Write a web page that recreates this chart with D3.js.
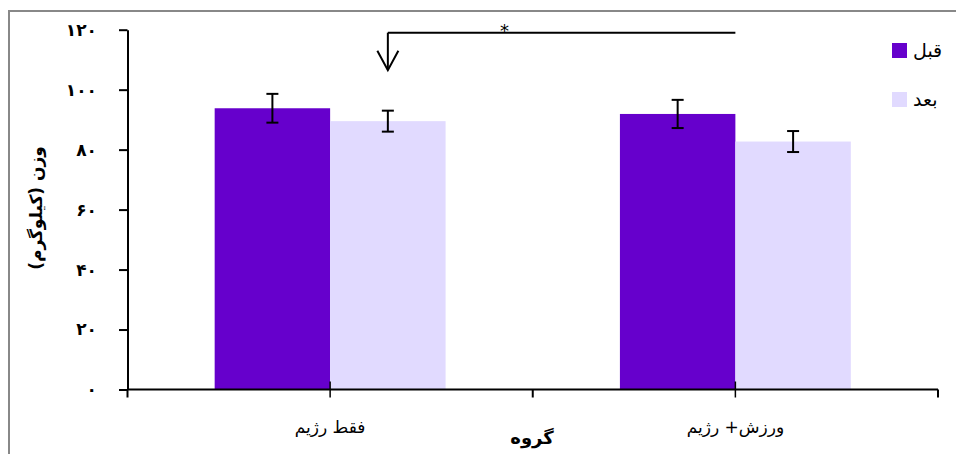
<!DOCTYPE html>
<html>
<head>
<meta charset="utf-8">
<script src="https://cdn.jsdelivr.net/npm/d3@7"></script>
<style>
  body { margin: 0; background: #fff; }
  text { font-family: "DejaVu Sans", sans-serif; }
</style>
</head>
<body>
<div id="chart"></div>
<script>
const groups = ["فقط رژیم", "ورزش+ رژیم"];
const series = ["قبل", "بعد"];
const before = [93.8, 91.9];
const after = [89.5, 82.7];
const beforeErr = [4.8, 4.7];
const afterErr = [3.5, 3.5];
const yTicks = [0, 20, 40, 60, 80, 100, 120];
const colors = ["#6600CC", "#E1DAFF"];

const width = 956, height = 454;

const svg = d3.select("#chart")
  .append("svg")
  .attr("width", width)
  .attr("height", height);

// outer frame (runs off the right and bottom edges)
svg.append("rect")
  .attr("x", 9).attr("y", 11)
  .attr("width", 960).attr("height", 460)
  .attr("fill", "none")
  .attr("stroke", "#888")
  .attr("stroke-width", 2);

const x0 = d3.scaleBand().domain(groups).range([127.5, 938]);
const x1 = d3.scaleBand().domain(series).range([0, x0.bandwidth()]).paddingOuter(0.755);
const y = d3.scaleLinear().domain([0, 120]).range([389.5, 29.7]);

const fa = d => String(d).replace(/\d/g, c => "۰۱۲۳۴۵۶۷۸۹"[c]);

const rows = groups.map((g, i) => [
  { g, s: series[0], v: before[i], e: beforeErr[i], c: colors[0] },
  { g, s: series[1], v: after[i], e: afterErr[i], c: colors[1] }
]).flat();

svg.append("g")
  .selectAll("rect")
  .data(rows)
  .enter().append("rect")
  .attr("x", d => x0(d.g) + x1(d.s))
  .attr("y", d => y(d.v))
  .attr("width", x1.bandwidth())
  .attr("height", d => y(0) - y(d.v))
  .attr("fill", d => d.c);

// error bars
const eb = svg.append("g")
  .attr("stroke", "#000")
  .attr("stroke-width", 2)
  .selectAll("g")
  .data(rows)
  .enter().append("g")
  .attr("transform", d => `translate(${x0(d.g) + x1(d.s) + x1.bandwidth() / 2},0)`);
eb.append("line")
  .attr("y1", d => y(d.v + d.e)).attr("y2", d => y(d.v - d.e));
eb.append("line")
  .attr("x1", -6).attr("x2", 6)
  .attr("y1", d => y(d.v + d.e)).attr("y2", d => y(d.v + d.e));
eb.append("line")
  .attr("x1", -6).attr("x2", 6)
  .attr("y1", d => y(d.v - d.e)).attr("y2", d => y(d.v - d.e));

// y axis
const yAxis = svg.append("g")
  .attr("transform", "translate(127.5,0)")
  .call(d3.axisLeft(y).tickValues(yTicks).tickSize(8.5).tickSizeOuter(0).tickPadding(22).tickFormat(fa));
yAxis.select(".domain").attr("stroke-width", 2);
yAxis.selectAll(".tick line").attr("stroke-width", 2);
yAxis.selectAll("text")
  .attr("font-size", 17)
  .attr("font-weight", "bold")
  .attr("letter-spacing", 1)
  .attr("fill", "#000");

// x axis
const xa = svg.append("g");
xa.append("line")
  .attr("x1", 127.5).attr("x2", 938)
  .attr("y1", y(0)).attr("y2", y(0))
  .attr("stroke", "#000").attr("stroke-width", 2);
const edges = [x0.range()[0], ...groups.slice(1).map(g => x0(g)), x0.range()[1]];
xa.selectAll(".edge")
  .data(edges)
  .enter().append("line")
  .attr("x1", d => d).attr("x2", d => d)
  .attr("y1", y(0)).attr("y2", y(0) + 8)
  .attr("stroke", "#000").attr("stroke-width", 2);
xa.selectAll(".mid")
  .data(groups)
  .enter().append("line")
  .attr("x1", d => x0(d) + x0.bandwidth() / 2).attr("x2", d => x0(d) + x0.bandwidth() / 2)
  .attr("y1", y(0) - 8).attr("y2", y(0) + 8)
  .attr("stroke", "#000").attr("stroke-width", 1.5);
xa.selectAll("text")
  .data(groups)
  .enter().append("text")
  .attr("x", d => x0(d) + x0.bandwidth() / 2)
  .attr("y", 433)
  .attr("text-anchor", "middle")
  .attr("font-size", 17)
  .text(d => d);

// axis titles
svg.append("text")
  .attr("x", 532).attr("y", 444)
  .attr("text-anchor", "middle")
  .attr("font-size", 18)
  .attr("font-weight", "bold")
  .text("گروه");

svg.append("text")
  .attr("transform", "translate(42,208) rotate(-90)")
  .attr("text-anchor", "middle")
  .attr("font-size", 17)
  .attr("font-weight", "bold")
  .text("وزن (کیلوگرم)");

// legend
const lg = svg.append("g")
  .selectAll("g")
  .data(series)
  .enter().append("g")
  .attr("transform", (d, i) => `translate(892,${43 + i * 49})`);
lg.append("rect")
  .attr("width", 15).attr("height", 15)
  .attr("fill", (d, i) => colors[i]);
lg.append("text")
  .attr("x", 21).attr("y", 14)
  .attr("font-size", 19)
  .text(d => d);

// significance bracket
const xa1 = x0(groups[0]) + x1(series[1]) + x1.bandwidth() / 2;
const xb = x0(groups[1]) + x0.bandwidth() / 2;
const yTop = y(119);
const sig = svg.append("g").attr("stroke", "#000").attr("stroke-width", 2).attr("fill", "none");
sig.append("line").attr("x1", xa1).attr("x2", xb).attr("y1", yTop).attr("y2", yTop);
sig.append("line").attr("x1", xa1).attr("x2", xa1).attr("y1", yTop).attr("y2", y(106.5));
sig.append("path")
  .attr("d", `M${xa1 - 10.5},${y(113)} L${xa1},${y(106.5)} L${xa1 + 10.5},${y(113)}`);
svg.append("text")
  .attr("x", (xa1 + xb) / 2 - 57)
  .attr("y", yTop + 4)
  .attr("text-anchor", "middle")
  .attr("font-size", 18)
  .text("*");
</script>
</body>
</html>
